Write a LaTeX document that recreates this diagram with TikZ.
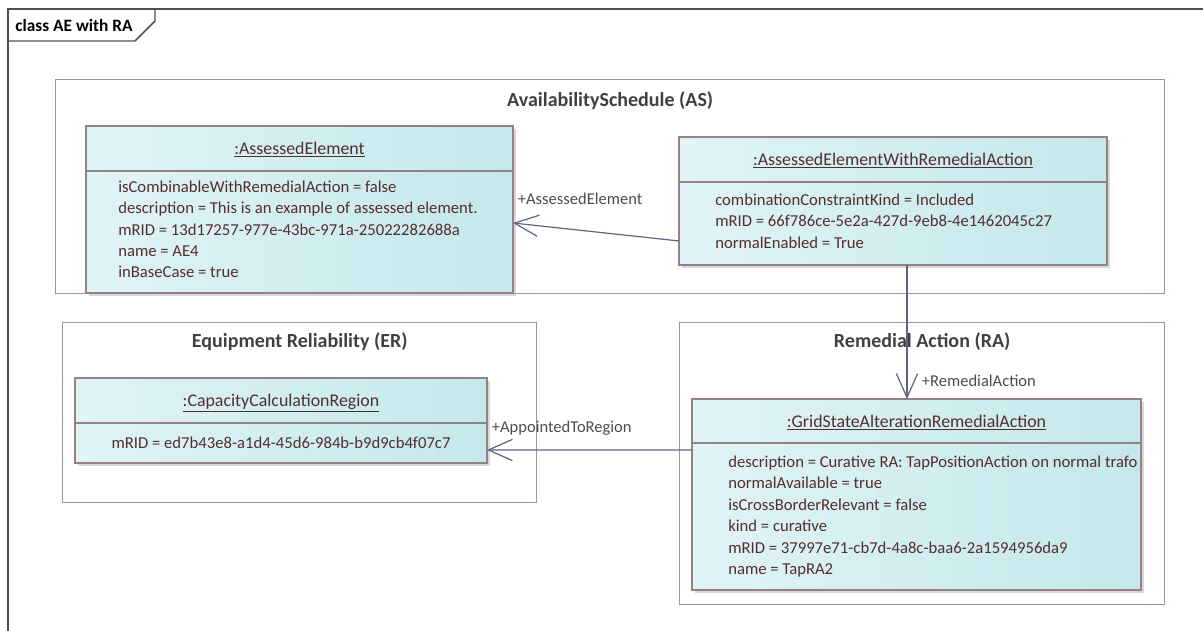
\documentclass[tikz,border=0pt]{standalone}
\usepackage{fontspec}
\setmainfont{Carlito}
\usetikzlibrary{positioning,arrows.meta,shadows}

\definecolor{pkgline}{RGB}{165,145,145}
\definecolor{clsline}{RGB}{150,128,128}
\definecolor{clsleft}{RGB}{224,244,246}
\definecolor{clsright}{RGB}{196,232,235}
\definecolor{attrtext}{RGB}{85,45,45}
\definecolor{assocline}{RGB}{95,100,135}
\definecolor{frameline}{RGB}{80,80,80}

\tikzset{
  pkg/.style={draw=pkgline, line width=1pt, anchor=north west, inner sep=0pt},
  pkgtitle/.style={font=\fontsize{15}{18}\selectfont\bfseries, text=black!75},
  clsbox/.style={draw=clsline, line width=0.9pt, left color=clsleft, right color=clsright,
    inner sep=0pt, outer sep=0pt, drop shadow={shadow xshift=2.5pt, shadow yshift=-2.5pt, fill=black!30}},
  clshead/.style={clsbox, anchor=north west, text depth=0pt, font=\fontsize{13.4}{16}\selectfont, text=attrtext},
  clsbody/.style={clsbox, below=0pt of #1},
  attr/.style={align=left, inner sep=0pt, font=\fontsize{12.5}{16.1}\selectfont, text=attrtext},
  assoc/.style={draw=assocline, line width=0.9pt, -{Straight Barb[length=18pt,width=16pt]}},
  rolelbl/.style={inner sep=0pt, font=\fontsize{12.4}{15}\selectfont, text=black!70}
}

\begin{document}
\begin{tikzpicture}[x=0.75pt, y=-0.75pt]
\useasboundingbox (0,0) rectangle (1203,631);

% diagram frame
\draw[frameline, line width=1.1pt] (8,631) -- (8,9) -- (1203,9);
\draw[frameline, line width=1.1pt] (8,41) -- (135,41) -- (155,21) -- (155,9);
\node[font=\fontsize{13}{15}\selectfont\bfseries, text=black] (frame-t) at (74,25) {class AE with RA};

% packages
\node[pkg, minimum width=831.75pt, minimum height=160.5pt] (as) at (55,79) {};
\node[pkgtitle] (as-t) at ([yshift=-16.5pt]as.north) {AvailabilitySchedule (AS)};
\node[pkg, minimum width=355.5pt, minimum height=135pt] (er) at (62,322) {};
\node[pkgtitle] (er-t) at ([yshift=-15pt]er.north) {Equipment Reliability (ER)};
\node[pkg, minimum width=363.75pt, minimum height=211.5pt] (ra) at (679,322) {};
\node[pkgtitle] (ra-t) at ([yshift=-15pt]ra.north) {Remedial Action (RA)};

% objects
\node[clshead, minimum width=320.25pt, minimum height=33.75pt] (aeh) at (86,126) {\underline{:AssessedElement}};
\node[clsbody=aeh, minimum width=320.25pt, minimum height=91.5pt] (aeb) {};
\node[attr, anchor=west] (aea) at ([xshift=24pt,yshift=2pt]aeb.west) {isCombinableWithRemedialAction = false\\
description = This is an example of assessed element.\\
mRID = 13d17257-977e-43bc-971a-25022282688a\\
name = AE4\\
inBaseCase = true};

\node[clshead, minimum width=321pt, minimum height=33.75pt] (aewrah) at (679,137) {\underline{:AssessedElementWithRemedialAction}};
\node[clsbody=aewrah, minimum width=321pt, minimum height=62.25pt] (aewrab) {};
\node[attr, anchor=west] (aewraa) at ([xshift=27pt,yshift=2pt]aewrab.west) {combinationConstraintKind = Included\\
mRID = 66f786ce-5e2a-427d-9eb8-4e1462045c27\\
normalEnabled = True};

\node[clshead, minimum width=309pt, minimum height=33.75pt] (ccrh) at (75,378) {\underline{:CapacityCalculationRegion}};
\node[clsbody=ccrh, minimum width=309pt, minimum height=30pt, attr] (ccrb) {mRID = ed7b43e8-a1d4-45d6-984b-b9d9cb4f07c7};

\node[clshead, minimum width=336.75pt, minimum height=33pt] (gsarah) at (692,399) {\underline{:GridStateAlterationRemedialAction}};
\node[clsbody=gsarah, minimum width=336.75pt, minimum height=110.25pt] (gsarab) {};
\node[attr, anchor=west] (gsaraa) at ([xshift=27pt]gsarab.west) {description = Curative RA: TapPositionAction on normal trafo\\
normalAvailable = true\\
isCrossBorderRelevant = false\\
kind = curative\\
mRID = 37997e71-cb7d-4a8c-baa6-2a1594956da9\\
name = TapRA2};

% associations
\coordinate (ae-in) at ([yshift=6.75pt]aeb.east);
\coordinate (ra-in) at ([xshift=10.5pt]aewrab.south |- gsarah.north);
\coordinate (ccr-in) at ([yshift=-5.25pt]ccrb.east);
\draw[assoc] ([yshift=-13.1pt]aewrab.west) -- (ae-in);
\draw[assoc] ([xshift=10.5pt]aewrab.south) -- (ra-in);
\draw[assoc] ([yshift=49.9pt]gsarab.west) -- (ccr-in);
\node[rolelbl, anchor=west] (ae-r) at ([xshift=3.5pt,yshift=18pt]ae-in) {+AssessedElement};
\node[rolelbl, anchor=west] (ra-r) at ([xshift=11pt,yshift=13.5pt]ra-in) {+RemedialAction};
\node[rolelbl, anchor=west] (ccr-r) at ([xshift=3.5pt,yshift=16.5pt]ccr-in) {+AppointedToRegion};
\end{tikzpicture}
\end{document}
